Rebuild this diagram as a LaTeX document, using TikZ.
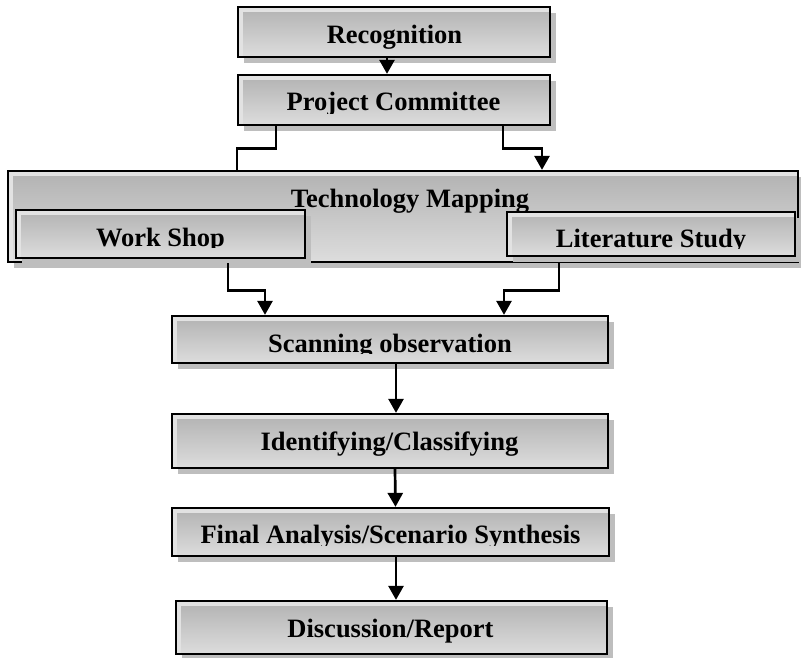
\documentclass[tikz,border=0pt]{standalone}
\usepackage{fontspec}
\setmainfont{Liberation Serif}
\usetikzlibrary{arrows.meta,shadows}
\definecolor{boxlight}{HTML}{E2E2E2}
\definecolor{gtop}{HTML}{B2B2B2}
\definecolor{gbot}{HTML}{DDDDDD}
\definecolor{shadowgray}{HTML}{BEBEBE}
\tikzset{
  box/.style={draw=black, line width=2.3pt, fill=boxlight, inner sep=0pt,
    general shadow={fill=shadowgray, shadow xshift=6pt, shadow yshift=-6pt},
    path picture={\shade[top color=gtop, bottom color=gbot]
      ([xshift=5pt,yshift=-5pt]path picture bounding box.north west) rectangle
      (path picture bounding box.south east);}},
  lbl/.style={font=\bfseries\fontsize{26.5}{30}\selectfont, inner sep=0pt, anchor=base},
  arr/.style={line width=2.7pt, -{Triangle[length=14pt,width=15pt]}},
  con/.style={line width=2.7pt}
}
\begin{document}
\begin{tikzpicture}[x=1pt,y=-1pt]
\useasboundingbox (0,0) rectangle (801,657);
% boxes
\node[box, minimum width=312pt, minimum height=50pt] (rec) at (394,32) {};
\node[box, minimum width=312pt, minimum height=50pt] (pc) at (394,100) {};
\node[box, minimum width=790pt, minimum height=91pt] (tm) at (403,216.5) {};
\node[box, minimum width=289pt, minimum height=48pt] (ws) at (160.5,234) {};
\node[box, minimum width=288pt, minimum height=44pt] (ls) at (651,234) {};
\node[box, minimum width=436pt, minimum height=47pt] (scan) at (390,339.5) {};
\node[box, minimum width=436pt, minimum height=54pt] (ident) at (390,441) {};
\node[box, minimum width=437pt, minimum height=48pt] (final) at (390.5,532) {};
\node[box, minimum width=431pt, minimum height=53pt] (disc) at (391.5,627.5) {};
% labels
\node[lbl] (trec) at (394.5,43) {Recognition};
\begin{scope}\clip (238,75) rectangle (550,113);
\node[lbl] (tpc) at (393.5,110) {Project Committee};\end{scope}
\node[lbl] (ttm) at (410,207) {Technology Mapping};
\begin{scope}\clip (16,210) rectangle (305,247.5);
\node[lbl] (tws) at (160.5,246) {Work Shop};\end{scope}
\begin{scope}\clip (507,212) rectangle (795,248);
\node[lbl] (tls) at (651,247) {Literature Study};\end{scope}
\begin{scope}\clip (172,316) rectangle (608,353.5);
\node[lbl] (tscan) at (390,352) {Scanning observation};\end{scope}
\node[lbl] (tident) at (389.5,450) {Identifying/Classifying};
\begin{scope}\clip (172,508) rectangle (609,545);
\node[lbl] (tfinal) at (390.5,543) {Final Analysis/Scenario Synthesis};\end{scope}
\node[lbl] (tdisc) at (390.5,637) {Discussion/Report};
% connectors
\draw[arr] ([xshift=-7pt]rec.south) -- ([xshift=-7pt]pc.north);
\draw[con] ([xshift=-118pt]pc.south) -- ++(0,22) -| ([xshift=-166pt]tm.north);
\draw[arr] ([xshift=109pt]pc.south) -- ++(0,22) -| ([xshift=139pt]tm.north);
\coordinate (wsout) at ([xshift=67.5pt]ws.south);
\coordinate (lsout) at ([xshift=-92pt]ls.south);
\draw[arr] (wsout |- tm.south) -- ++(0,27) -| ([xshift=-125pt]scan.north);
\draw[arr] (lsout |- tm.south) -- ++(0,27) -| ([xshift=114pt]scan.north);
\draw[arr] ([xshift=6pt]scan.south) -- ([xshift=6pt]ident.north);
\draw[arr] ([xshift=5pt]ident.south) -- ([xshift=5pt]final.north);
\draw[arr] ([xshift=5.5pt]final.south) -- ([xshift=4.5pt]disc.north);
\end{tikzpicture}
\end{document}
